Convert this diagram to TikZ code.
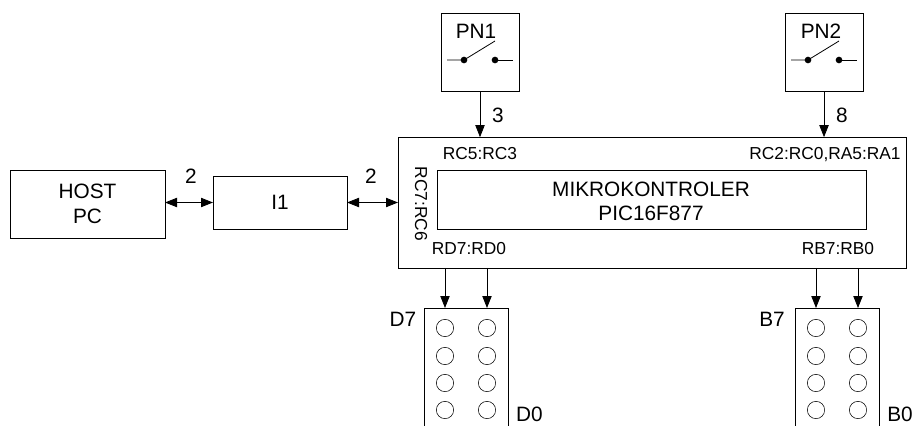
\documentclass[tikz,border=0pt]{standalone}
\usepackage{fontspec}
\setmainfont{Liberation Sans}
\usetikzlibrary{arrows.meta, positioning}

\begin{document}
\begin{tikzpicture}[
    x=0.75pt, y=-0.75pt,
    node distance=36pt and 36pt,
    box/.style={rectangle, draw, inner sep=0pt, outer sep=0pt, align=center, font=\fontsize{15.6}{19}\selectfont},
    swbox/.style={box, minimum width=58.5pt, minimum height=58.5pt},
    ledbox/.style={box, minimum width=63pt, minimum height=100pt},
    led/.style={circle, draw, inner sep=0pt, minimum size=13pt},
    pin/.style={font=\fontsize{13}{13}\selectfont, inner sep=0pt},
    note/.style={font=\fontsize{15.6}{18}\selectfont, inner sep=0pt, align=center},
    arrow/.style={-{Triangle[length=9pt, width=7pt]}, line width=0.6pt},
    biarrow/.style={{Triangle[length=9pt, width=7pt]}-{Triangle[length=9pt, width=7pt]}, line width=0.6pt},
]
    \useasboundingbox (0,0) rectangle (914,425);
    \clip (0,0) rectangle (914,425);

    % Microcontroller
    \node[box, minimum width=381pt, minimum height=98pt] (mcu) at (652,202.5) {};
    \node[box, minimum width=321.75pt, minimum height=44.25pt] (core) at (651.5,199.5) {};
    \node[note] (corelabel) at (651,201) {MIKROKONTROLER\\PIC16F877};

    % Host side
    \node[box, minimum width=100.5pt, minimum height=39.75pt, left=38.25pt of mcu] (i1) {I1};
    \node[box, minimum width=116.25pt, minimum height=51pt, left=36pt of i1, yshift=-1pt] (host) {HOST\\PC};

    % Push buttons
    \node[swbox] (pn1) at (480,52) {};
    \node[swbox] (pn2) at (824,52) {};
    \node[note] (pn1label) at (476,31.5) {PN1};
    \node[note] (pn2label) at (821,31.5) {PN2};
    \foreach \sw in {pn1,pn2} {
        \draw[line width=0.6pt, shift={(\sw.center)}] (-33,8) -- (-16,8) -- (15,-11);
        \draw[line width=0.6pt, shift={(\sw.center)}] (15,8) -- (33,8);
        \fill[shift={(\sw.center)}] (-16,8) circle (2.5pt) (15,8) circle (2.5pt);
    }

    % LED blocks
    \node[ledbox, anchor=north] (dled) at (466,308) {};
    \node[ledbox, anchor=north] (bled) at (837,308) {};
    \foreach \y [count=\i] in {328,356,383,410} {
        \node[led] (dl\i) at (445,\y) {};
        \node[led] (dr\i) at (487,\y) {};
        \node[led] (bl\i) at (816,\y) {};
        \node[led] (br\i) at (858,\y) {};
    }

    % Pin labels
    \node[pin] (rc53) at (480,154) {RC5:RC3};
    \node[pin] (rc20) at (825,155) {RC2:RC0,RA5:RA1};
    \node[pin] (rd70) at (469,249) {RD7:RD0};
    \node[pin] (rb70) at (838,249) {RB7:RB0};
    \node[pin, rotate=-90] (rc76) at (421,204) {RC7:RC6};

    % Numbers
    \node[note] (n3) at (498,115) {3};
    \node[note] (n8) at (842,115) {8};
    \node[note] (n2a) at (191,176) {2};
    \node[note] (n2b) at (371,176) {2};
    \node[note] (d7) at (403,319) {D7};
    \node[note] (d0) at (529.5,414) {D0};
    \node[note] (b7) at (772,319) {B7};
    \node[note] (b0) at (900,414) {B0};

    % Main arrows
    \draw[biarrow] (host.east |- i1) -- (i1);
    \draw[biarrow] (i1) -- (mcu.west |- i1);
    \draw[arrow] (pn1) -- (pn1 |- mcu.north);
    \draw[arrow] (pn2) -- (pn2 |- mcu.north);
    \draw[arrow] (mcu.south -| dl1) -- (dl1 |- dled.north);
    \draw[arrow] (mcu.south -| dr1) -- (dr1 |- dled.north);
    \draw[arrow] (mcu.south -| bl1) -- (bl1 |- bled.north);
    \draw[arrow] (mcu.south -| br1) -- (br1 |- bled.north);

\end{tikzpicture}
\end{document}
